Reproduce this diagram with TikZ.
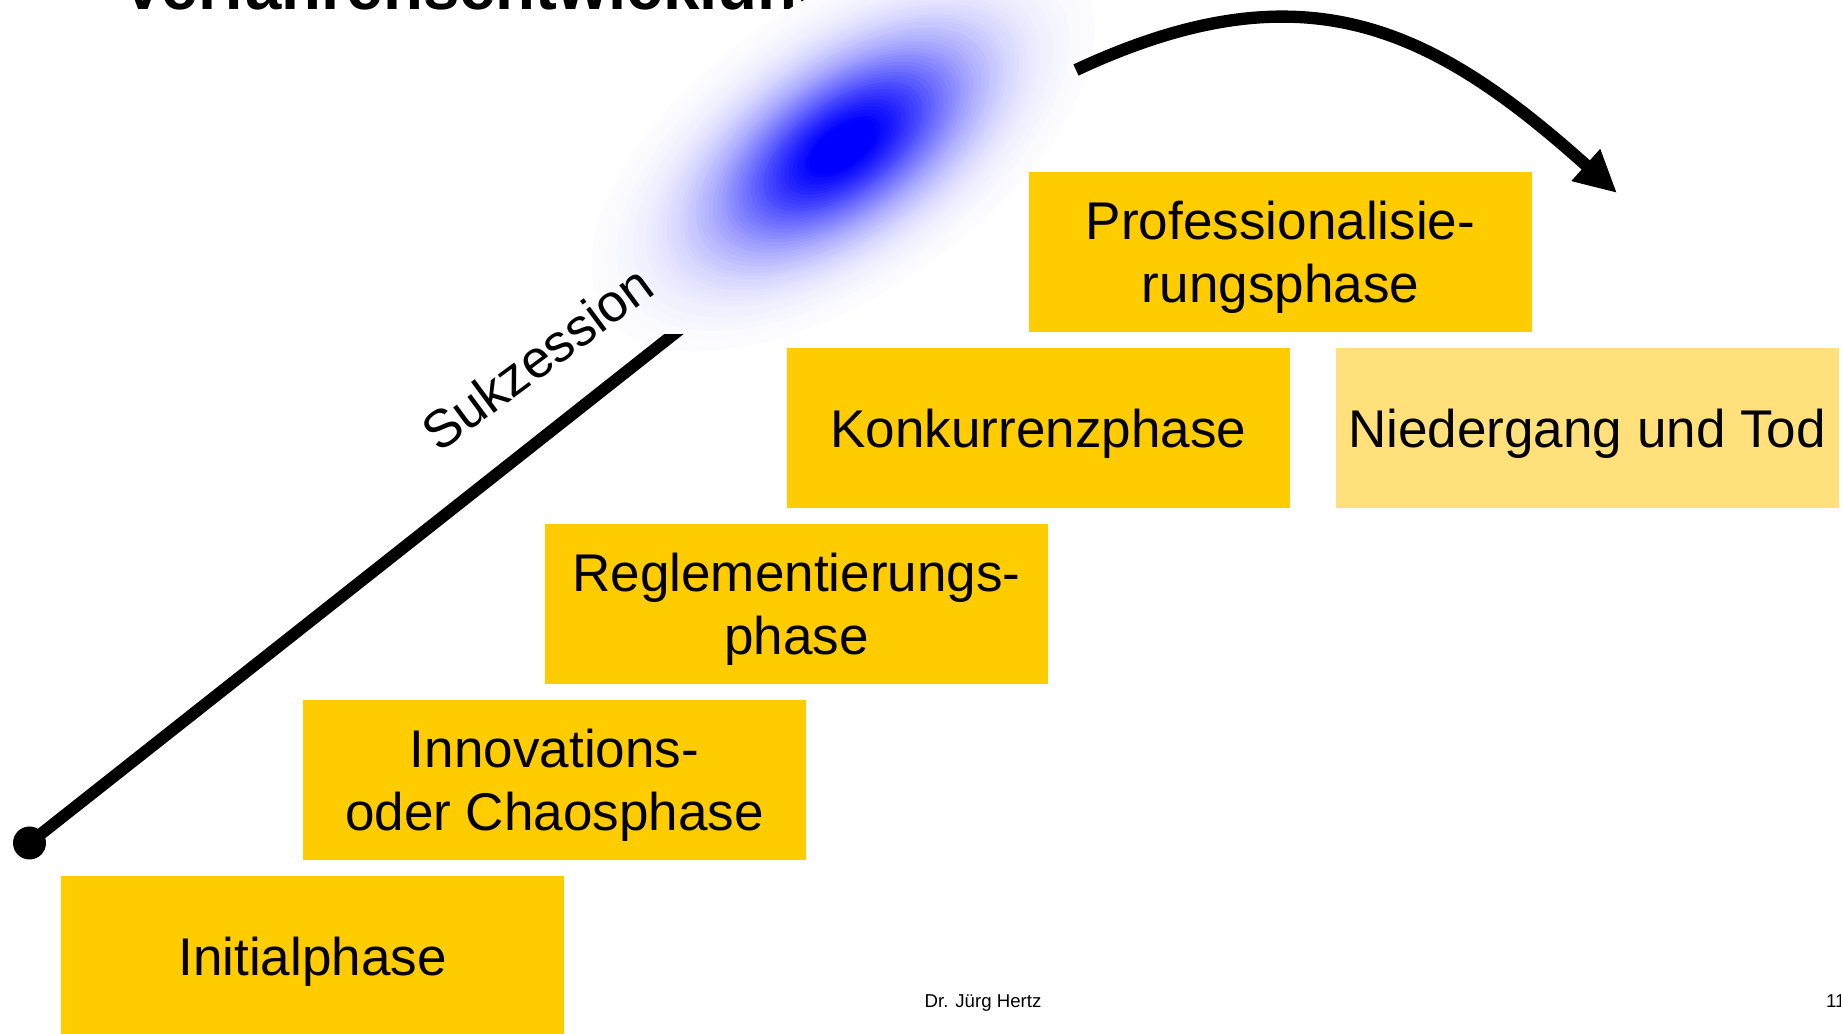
\documentclass[tikz,border=0pt]{standalone}
\usepackage{fontspec}
\setmainfont{Liberation Sans}
\usetikzlibrary{arrows.meta}
\usetikzlibrary{positioning}

\definecolor{phasegold}{HTML}{FFCC00}
\definecolor{fadedgold}{HTML}{FFE07A}

\begin{document}
\begin{tikzpicture}
    \useasboundingbox (0,0) rectangle (18.41,10.33);
    % title, mostly above the page
    \node[anchor=base west, inner sep=0, font=\fontsize{18.6}{22}\selectfont\bfseries] (title) at (1.21,10.23) {Verfahrensentwicklung};
    % blue blob
    \begin{scope}[shift={(8.43,8.86)}, rotate=35]
      \foreach \i in {60,...,1} {
        \pgfmathtruncatemacro{\bluepct}{min(100,108*exp(-4.3*(\i/60)^2))}
        \fill[blue!\bluepct!white] (0,0) ellipse ({2.9*\i/60} and {1.45*\i/60});
      }
    \end{scope}
    % succession line
    \node[circle, fill=black, inner sep=0, minimum size=0.33cm] (start) at (0.295,1.90) {};
    \coordinate (succtop) at (7.12,7.29);
    \begin{scope}
      \clip (0,0) rectangle (18.41,6.98);
      \draw[line width=3.4pt] (start.center) -- (succtop);
    \end{scope}
    \node[rotate=36.5, inner sep=0, font=\fontsize{15.1}{18}\selectfont] (succ) at (5.37,6.75) {Sukzession};
    % phases
    \begin{scope}[every node/.style={fill=phasegold, minimum width=5.03cm, minimum height=1.60cm, inner sep=0, align=center, text depth=0cm, font=\fontsize{15.1}{18}\selectfont}]
      \node (initial) at (3.125,0.77) {Initialphase};
      \node (innov) at (5.545,2.53) {Innovations-\\oder Chaosphase};
      \node (regl) at (7.965,4.29) {Reglementierungs-\\phase};
      \node (konk) at (10.385,6.05) {Konkurrenzphase};
      \node (prof) at (12.805,7.81) {Professionalisie-\\rungsphase};
      \node[fill=fadedgold] (tod) at (15.87,6.05) {Niedergang und Tod};
    \end{scope}
    % arrow over the top
    \coordinate (arrowtail) at (10.76,9.63);
    \coordinate (arrowtip) at (16.17,8.40);
    \draw[line width=3.5pt, -{Triangle[length=0.42cm,width=0.40cm]}] (arrowtail) .. controls (13.03,10.69) and (14.31,10.07) .. (arrowtip);
    % footer
    \node[anchor=base west, inner sep=0, font=\fontsize{5.3}{6}\selectfont] (author) at (9.24,0.26) {Dr. Jürg Hertz};
    \node[anchor=base west, inner sep=0, font=\fontsize{5.3}{6}\selectfont] (pageno) at (18.255,0.26) {11};
\end{tikzpicture}
\end{document}
